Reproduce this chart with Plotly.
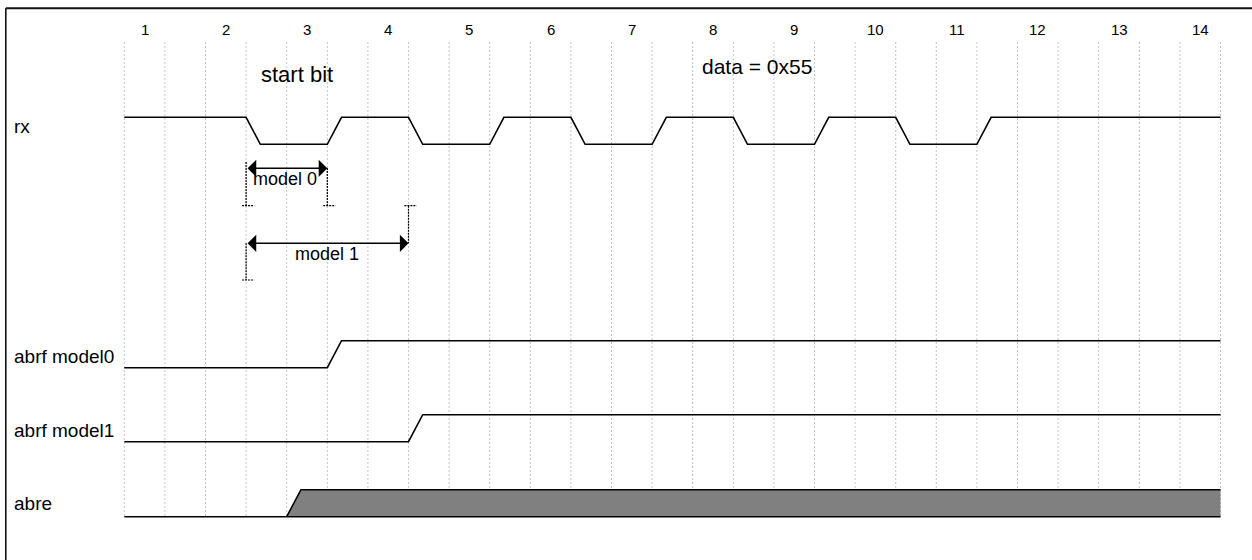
import plotly.graph_objects as go

# ---------------- data ----------------
clock_labels = [str(i) for i in range(1, 15)]          # bit-clock numbers on top
grid_half_periods = list(range(0, 28))                 # dotted grid, one per half period
t_end = 27                                             # end of waveform (half periods)
slew = 0.35                                            # edge duration (half periods)

signal_names = ["rx", "abrf model0", "abrf model1", "abre"]
rx_edges = [3, 5, 7, 9, 11, 13, 15, 17, 19, 21]
rx_levels = [1, 0, 1, 0, 1, 0, 1, 0, 1, 0, 1]          # idle, start, 0x55 LSB first, stop
abrf_model0_edges = [5]
abrf_model0_levels = [0, 1]
abrf_model1_edges = [7]
abrf_model1_levels = [0, 1]
abre_edges = [4]
abre_levels = [0, 1]

model0_span = [3, 5]
model1_span = [3, 7]
annotation_texts = ["start bit", "data = 0x55", "model 0", "model 1"]

# ---------------- layout helpers ----------------
W, H = 1252, 560
X0_PX, HALF_PX = 124.3, 40.6                      # pixel of t=0, pixels per half period
row_low = {"rx": 144.3, "abrf model0": 367.7, "abrf model1": 441.7, "abre": 516.7}
amp = 27.0
label_y = {"rx": 126, "abrf model0": 356.5, "abrf model1": 430.5, "abre": 503.5}


def wave(edges, levels):
    xs, ys = [0], [levels[0]]
    for e, prev, new in zip(edges, levels[:-1], levels[1:]):
        xs += [e, e + slew]
        ys += [prev, new]
    xs.append(t_end)
    ys.append(levels[-1])
    return xs, ys


def to_y(name, ys):
    return [row_low[name] - v * amp for v in ys]


fig = go.Figure()

# grid
gx, gy = [], []
for g in grid_half_periods:
    gx += [g, g, None]
    gy += [42, 518, None]
fig.add_trace(go.Scatter(x=gx, y=gy, mode="lines",
                         line=dict(color="#c4c4c4", width=1, dash="2px,2px"),
                         hoverinfo="skip", showlegend=False))

# abre filled region
edge = abre_edges[0]
fx = [edge, edge + slew, t_end, t_end, edge]
fy = to_y("abre", [0, 1, 1, 0, 0])
fig.add_trace(go.Scatter(x=fx, y=fy, mode="lines", fill="toself",
                         fillcolor="#808080", line=dict(width=0),
                         hoverinfo="skip", showlegend=False))
fig.add_trace(go.Scatter(x=[0, t_end], y=to_y("abre", [0, 0]), mode="lines",
                         line=dict(color="black", width=1.6),
                         hoverinfo="skip", showlegend=False))
fig.add_trace(go.Scatter(x=[edge, edge + slew, t_end], y=to_y("abre", [0, 1, 1]), mode="lines",
                         line=dict(color="black", width=1.6),
                         hoverinfo="skip", showlegend=False))

# other waveforms
for name, edges, levels in [("rx", rx_edges, rx_levels),
                            ("abrf model0", abrf_model0_edges, abrf_model0_levels),
                            ("abrf model1", abrf_model1_edges, abrf_model1_levels)]:
    xs, ys = wave(edges, levels)
    fig.add_trace(go.Scatter(x=xs, y=to_y(name, ys), mode="lines",
                             line=dict(color="black", width=1.6),
                             hoverinfo="skip", showlegend=False))

# dimension (extension) lines, dotted black
tick_l, tick_r = -0.1, 0.2
dx, dy = [], []
dx += [model0_span[0], model0_span[0], None, model0_span[0] + tick_l, model0_span[0] + tick_r, None]
dy += [162, 205.7, None, 205.7, 205.7, None]
dx += [model0_span[1], model0_span[1], None, model0_span[1] + tick_l, model0_span[1] + tick_r, None]
dy += [168, 205.7, None, 205.7, 205.7, None]
dx += [model1_span[1], model1_span[1], None, model1_span[1] + tick_l, model1_span[1] + tick_r, None]
dy += [205.7, 243.3, None, 205.7, 205.7, None]
dx += [model1_span[0], model1_span[0], None, model1_span[0] + tick_l, model1_span[0] + tick_r, None]
dy += [243.3, 280, None, 280, 280, None]
fig.add_trace(go.Scatter(x=dx, y=dy, mode="lines",
                         line=dict(color="black", width=1.2, dash="2px,1px"),
                         hoverinfo="skip", showlegend=False))

annotations = []
for span, yy in [(model0_span, 168.3), (model1_span, 243.3)]:
    annotations.append(dict(x=span[1], y=yy, ax=span[0], ay=yy, xref="x", yref="y",
                            axref="x", ayref="y", text="", showarrow=True,
                            arrowhead=1, startarrowhead=1, arrowside="end+start",
                            arrowsize=1.8, startarrowsize=1.8, arrowwidth=1.6,
                            arrowcolor="black"))

font = "Liberation Sans, Arial, sans-serif"
for k, lab in enumerate(clock_labels, start=1):
    annotations.append(dict(x=2 * k - 1.5, y=29.5, xref="x", yref="y", text=lab,
                            showarrow=False, font=dict(family=font, size=15, color="black")))
for name in signal_names:
    annotations.append(dict(x=11.5 / W, y=label_y[name], xref="paper", yref="y", text=name,
                            xanchor="left", showarrow=False,
                            font=dict(family=font, size=19, color="black")))
annotations.append(dict(x=4.25, y=74.5, xref="x", yref="y", text=annotation_texts[0],
                        showarrow=False, font=dict(family=font, size=22, color="black")))
annotations.append(dict(x=15.58, y=66, xref="x", yref="y", text=annotation_texts[1],
                        showarrow=False, font=dict(family=font, size=21, color="black")))
annotations.append(dict(x=3.96, y=178.5, xref="x", yref="y", text=annotation_texts[2],
                        showarrow=False, font=dict(family=font, size=18, color="black")))
annotations.append(dict(x=4.99, y=254, xref="x", yref="y", text=annotation_texts[3],
                        showarrow=False, font=dict(family=font, size=18, color="black")))

fig.update_layout(
    width=W, height=H,
    margin=dict(l=0, r=0, t=0, b=0),
    paper_bgcolor="white", plot_bgcolor="white",
    xaxis=dict(range=[-X0_PX / HALF_PX, (W - X0_PX) / HALF_PX], visible=False, fixedrange=True),
    yaxis=dict(range=[H, 0], visible=False, fixedrange=True),
    annotations=annotations,
    shapes=[
        dict(type="line", xref="paper", yref="paper", x0=5.8 / W, x1=1.01, y0=1 - 8.2 / H, y1=1 - 8.2 / H,
             line=dict(color="#111111", width=2)),
        dict(type="line", xref="paper", yref="paper", x0=5.8 / W, x1=5.8 / W, y0=-0.02, y1=1 - 8.2 / H,
             line=dict(color="#111111", width=1.6)),
    ],
    showlegend=False,
)

fig.write_html("out.html", config={"displayModeBar": False},
               post_script="document.body.style.margin='0';document.body.style.overflow='hidden';")
